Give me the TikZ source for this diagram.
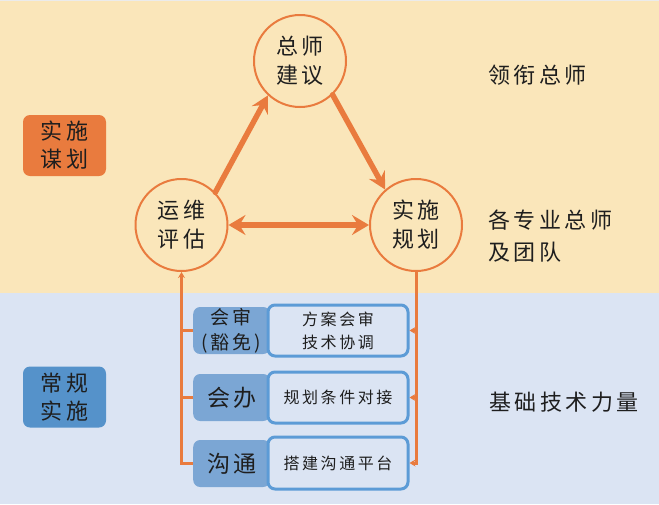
\documentclass[tikz,border=0pt]{standalone}
\usepackage{fontspec}
\setmainfont{Noto Sans CJK SC}
\newfontfamily\cjk[LetterSpace=16]{Noto Sans CJK SC}
\usetikzlibrary{arrows.meta,positioning}
\definecolor{bgyellow}{HTML}{FAE6BA}
\definecolor{bgblue}{HTML}{DBE4F3}
\definecolor{orng}{HTML}{E97B3E}
\definecolor{sidebluebox}{HTML}{5592CA}
\definecolor{lblblue}{HTML}{7BA6D4}
\definecolor{outblue}{HTML}{5C9BD6}
\definecolor{txt}{HTML}{1E1E1E}
\tikzset{
  circ/.style={circle, draw=orng, line width=2pt, minimum size=92pt, inner sep=0pt,
    align=center, text=txt, font=\cjk\fontsize{22}{29}\selectfont},
  sidebox/.style={rounded corners=7pt, minimum width=83pt, minimum height=61pt, inner sep=0pt,
    align=center, text=txt, font=\cjk\fontsize{22}{28}\selectfont},
  lblbox/.style={rounded corners=7pt, fill=lblblue, minimum width=77pt, minimum height=47pt,
    inner sep=0pt, text=txt, align=center},
  outbox/.style={rounded corners=7pt, fill=bgblue, draw=outblue, line width=3pt,
    minimum width=140pt, minimum height=51pt, inner sep=0pt, text=txt, align=center,
    font=\cjk\fontsize{16}{23}\selectfont},
  sidelabel/.style={anchor=west, text=txt, align=left, inner sep=0pt,
    font=\cjk\fontsize{22}{32}\selectfont},
  bigarrow/.style={draw=orng, line width=5.5pt, line cap=round,
    -{Stealth[length=17pt,width=18pt,inset=6pt]}},
  dblarrow/.style={draw=orng, line width=5.5pt,
    {Stealth[length=17pt,width=20pt,inset=6pt]}-{Stealth[length=17pt,width=20pt,inset=6pt]}},
  thinline/.style={draw=orng, line width=3pt},
  thinarrow/.style={draw=orng, line width=3pt, -{Stealth[length=6pt,width=7pt,inset=2pt]}},
}
\begin{document}
\begin{tikzpicture}[x=1pt,y=-1pt]
\useasboundingbox (0,0) rectangle (659,504);
\fill[bgyellow] (0,0) rectangle (659,293);
\fill[bgblue] (0,293) rectangle (659,504);
\fill[black!8] (0,0) rectangle (659,1.2);

% left category boxes
\node[sidebox, fill=orng] (cat1) at (64.5,145.5) {实施\\谋划};
\node[sidebox, fill=sidebluebox] (cat2) at (64.5,397) {常规\\实施};

% circles
\node[circ] (zs) at (300,61) {总师\\建议};
\node[circ] (yw) at (181.5,225) {运维\\评估};
\node[circ] (ss) at (416,225) {实施\\规划};

% big arrows
\draw[bigarrow] (yw.44) -- (zs.227);
\draw[bigarrow] (zs.314) -- (ss.131);
\draw[dblarrow] (yw.east) -- (ss.west);

% right-side labels
\node[sidelabel] (lab1) at (488,75) {领衔总师};
\node[sidelabel] (lab2) at (488,236) {各专业总师\\及团队};
\node[sidelabel] (lab3) at (489,402) {基础技术力量};

% bottom label boxes
\node[lblbox, anchor=west] (l1) at (193,330.5) {};
\node[lblbox, anchor=west] (l2) at (193,397.5) {};
\node[lblbox, anchor=west] (l3) at (193,463.5) {};
\node[text=txt, align=center, font=\cjk\fontsize{19}{25}\selectfont] (t1) at (231,330.5) {会审\\(豁免)};
\node[text=txt, font=\cjk\fontsize{23}{28}\selectfont] (t2) at (232,397.5) {会办};
\node[text=txt, font=\cjk\fontsize{23}{28}\selectfont] (t3) at (232,463.5) {沟通};

% outlined boxes
\node[outbox] (r1) at (338,330.5) {方案会审\\技术协调};
\node[outbox] (r2) at (338,397.5) {规划条件对接};
\node[outbox, minimum height=52pt] (r3) at (338,463) {搭建沟通平台};

% left connector (up into 运维评估)
\draw[thinarrow] (l3.west) -| (yw.south);
\draw[thinline] (l1.west) -- (l1.west -| yw.south);
\draw[thinline] (l2.west) -- (l2.west -| yw.south);

% right connector (down from 实施规划)
\draw[thinarrow] (ss.south) |- (r3.east);
\draw[thinarrow] (r1.east -| ss.south) -- (r1.east);
\draw[thinarrow] (r2.east -| ss.south) -- (r2.east);
\end{tikzpicture}
\end{document}
